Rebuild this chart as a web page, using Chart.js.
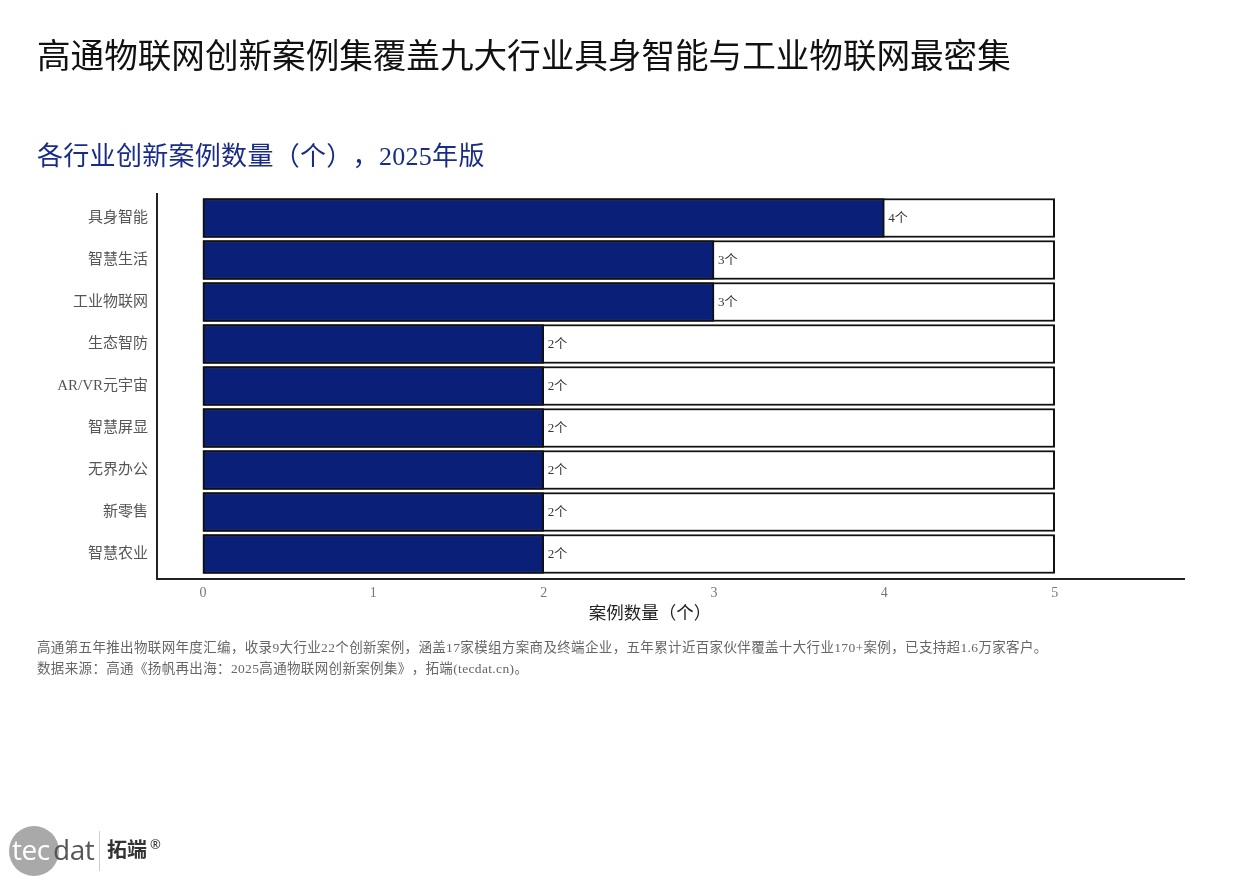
<!DOCTYPE html>
<html>
<head>
<meta charset="utf-8">
<script src="https://cdn.jsdelivr.net/npm/chart.js@4"></script>
<style>
  html, body { margin:0; padding:0; background:#fff; width:1260px; height:882px; overflow:hidden; }
  #wrap { position:relative; width:1260px; height:882px; }
  canvas { position:absolute; left:0; top:0; }
  .t { position:absolute; white-space:nowrap; line-height:1; text-spacing-trim: space-all; }
  #title { left:37px; top:40px; font-size:33.6px; color:#111; font-family:"Liberation Serif","Noto Sans CJK SC",serif; }
  #subtitle { left:37px; top:144px; font-size:26px; letter-spacing:0.3px; color:#1a2d86; font-family:"Liberation Serif","Noto Sans CJK SC",serif; }
  #xtitle { left:650px; top:605px; transform:translateX(-50%); font-size:17.5px; color:#222; font-family:"Liberation Serif","Noto Sans CJK SC",serif; }
  .note { left:37px; font-size:13.5px; letter-spacing:0.35px; color:#666; font-family:"Liberation Serif","Noto Sans CJK SC",serif; }
  #logo { position:absolute; left:9px; top:825px; width:170px; height:52px; }
  #logo .circ { position:absolute; left:0; top:1px; width:50px; height:50px; border-radius:50%; background:#a9a9a9; }
  #logo .tec { position:absolute; left:3px; top:10px; font-size:28px; color:#fff; font-family:"Open Sans",sans-serif; letter-spacing:-0.5px; }
  #logo .dat { position:absolute; left:44px; top:10px; font-size:28px; color:#555; font-family:"Open Sans",sans-serif; letter-spacing:-0.5px; }
  #logo .bar { position:absolute; left:90px; top:6px; width:1px; height:40px; background:#ccc; }
  #logo .cn { position:absolute; left:98px; top:14px; font-size:20px; font-weight:bold; color:#333; font-family:"Noto Sans CJK SC",sans-serif; }
  #logo .reg { position:absolute; left:141px; top:13px; font-size:13px; color:#333; font-family:"Noto Sans",sans-serif; }
</style>
</head>
<body>
<div id="wrap">
  <canvas id="c" width="1260" height="882"></canvas>
  <div class="t" id="title">高通物联网创新案例集覆盖九大行业具身智能与工业物联网最密集</div>
  <div class="t" id="subtitle">各行业创新案例数量（个），2025年版</div>
  <div class="t" id="xtitle">案例数量（个）</div>
  <div class="t note" style="top:641px">高通第五年推出物联网年度汇编，收录9大行业22个创新案例，涵盖17家模组方案商及终端企业，五年累计近百家伙伴覆盖十大行业170+案例，已支持超1.6万家客户。</div>
  <div class="t note" style="top:662px">数据来源：高通《扬帆再出海：2025高通物联网创新案例集》，拓端(tecdat.cn)。</div>
  <div id="logo">
    <div class="circ"></div>
    <div class="t tec">tec</div>
    <div class="t dat">dat</div>
    <div class="bar"></div>
    <div class="t cn">拓端</div>
    <div class="t reg">®</div>
  </div>
</div>
<script>
// ---- data ----
const categories = ['具身智能','智慧生活','工业物联网','生态智防','AR/VR元宇宙','智慧屏显','无界办公','新零售','智慧农业'];
const caseCounts = [4, 3, 3, 2, 2, 2, 2, 2, 2];
const fullScale  = [5, 5, 5, 5, 5, 5, 5, 5, 5];
const xTicks = [0, 1, 2, 3, 4, 5];
const valueUnit = '个';

const serif = '"Liberation Serif", "Noto Sans CJK SC", serif';

const axisLines = {
  id: 'axisLines',
  afterDraw(chart) {
    const {ctx, chartArea: a} = chart;
    ctx.save();
    ctx.strokeStyle = '#222';
    ctx.lineWidth = 2;
    ctx.beginPath();
    ctx.moveTo(a.left, a.top - 4);
    ctx.lineTo(a.left, a.bottom + 5);
    ctx.moveTo(a.left - 1, a.bottom + 4);
    ctx.lineTo(a.right, a.bottom + 4);
    ctx.stroke();
    ctx.restore();
  }
};

const valueLabels = {
  id: 'valueLabels',
  afterDatasetsDraw(chart) {
    const {ctx} = chart;
    const meta = chart.getDatasetMeta(0);
    ctx.save();
    ctx.font = '13px ' + serif;
    ctx.fillStyle = '#333';
    ctx.textAlign = 'left';
    ctx.textBaseline = 'middle';
    meta.data.forEach((el, i) => {
      ctx.fillText(caseCounts[i] + valueUnit, el.x + 4, el.y + 1);
    });
    ctx.restore();
  }
};

new Chart(document.getElementById('c'), {
  type: 'bar',
  data: {
    labels: categories,
    datasets: [
      {
        label: '案例数量',
        data: caseCounts,
        backgroundColor: '#0a1f77',
        borderColor: '#111',
        borderWidth: 2,
        borderSkipped: false,
        grouped: false,
        barThickness: 39,
        order: 0
      },
      {
        label: '满刻度',
        data: fullScale,
        backgroundColor: '#ffffff',
        borderColor: '#111',
        borderWidth: 2,
        borderSkipped: false,
        grouped: false,
        barThickness: 39,
        order: 1
      }
    ]
  },
  options: {
    indexAxis: 'y',
    responsive: false,
    animation: false,
    layout: { padding: { top: 197, bottom: 267, left: 0, right: 75 } },
    plugins: { legend: { display: false }, tooltip: { enabled: false }, title: { display: false } },
    scales: {
      x: {
        type: 'linear',
        min: -0.27,
        max: 5.765,
        afterBuildTicks(s) { s.ticks = xTicks.map(v => ({ value: v })); },
        afterFit(s) { s.height = 40; },
        grid: { display: false, drawTicks: false },
        border: { display: false },
        ticks: { color: '#777', font: { size: 14, family: serif }, padding: 10 }
      },
      y: {
        type: 'category',
        offset: true,
        afterFit(s) { s.width = 157; },
        grid: { display: false, drawTicks: false },
        border: { display: false },
        ticks: { color: '#555', font: { size: 15, family: serif }, padding: 9 }
      }
    }
  },
  plugins: [axisLines, valueLabels]
});
</script>
</body>
</html>
